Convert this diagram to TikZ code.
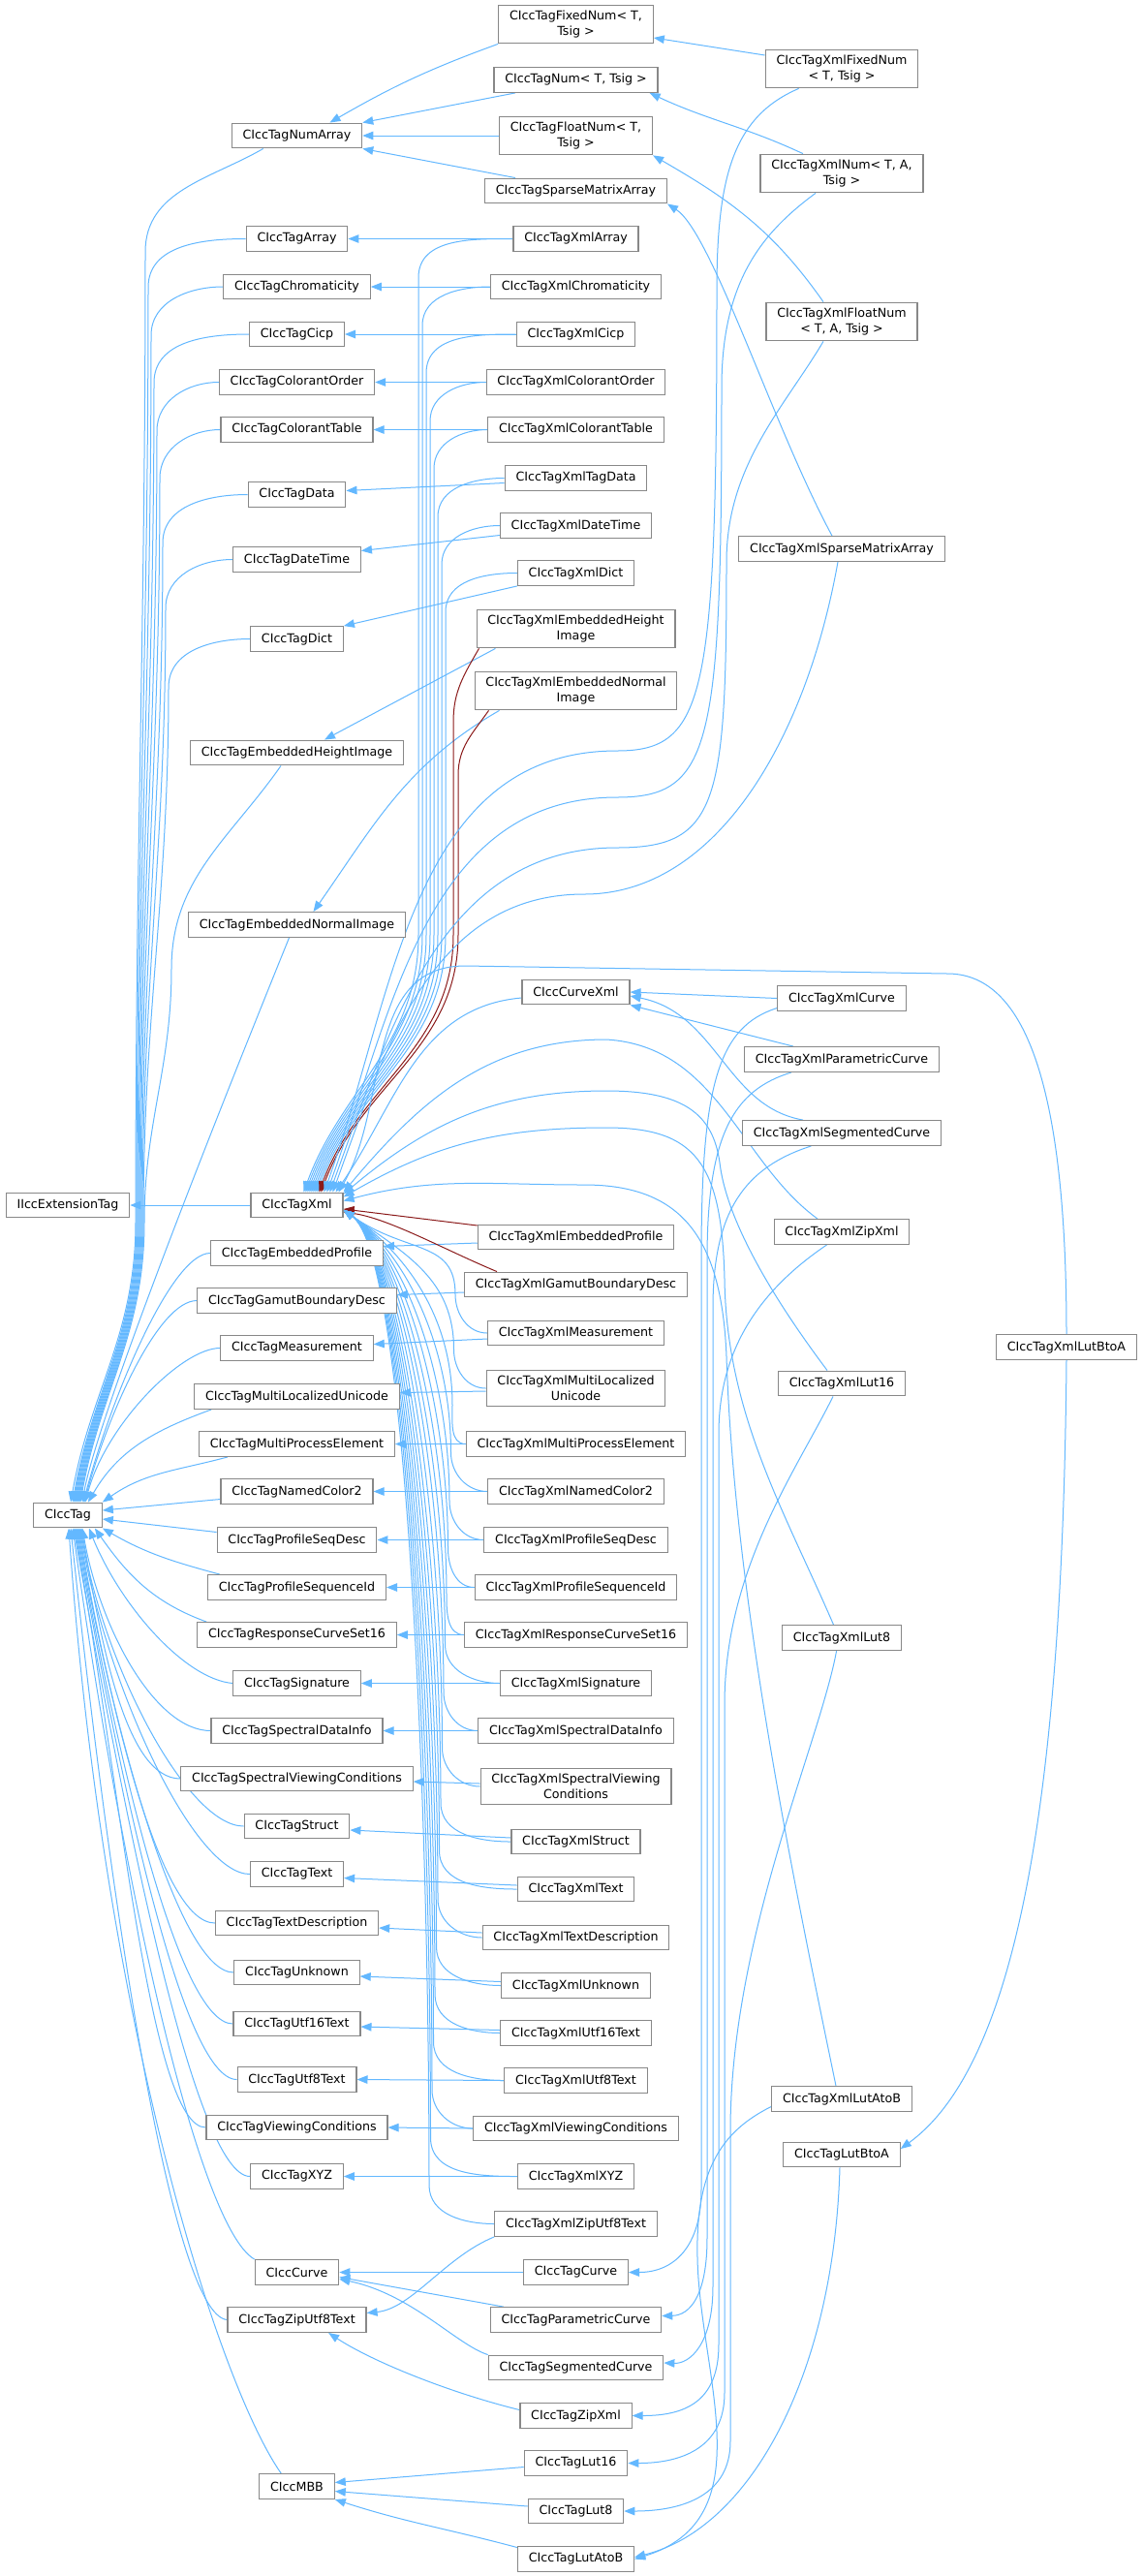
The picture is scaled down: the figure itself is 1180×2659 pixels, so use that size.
\documentclass[tikz,border=0pt]{standalone}
\usepackage{fontspec}
\setmainfont{DejaVu Sans}
\usetikzlibrary{arrows.meta,calc}
\definecolor{pubedge}{HTML}{63B8FF}
\definecolor{privedge}{HTML}{8B1A1A}
\definecolor{boxgray}{HTML}{888888}
\pgfdeclarelayer{edges}
\pgfsetlayers{edges,main}

\begin{document}
\begin{tikzpicture}[
  x=1pt,y=1pt,
  cls/.style={draw=boxgray,line width=1.2pt,fill=white,font=\fontsize{12.65}{15.7}\selectfont,align=center,inner xsep=11.3pt,inner ysep=5.8pt,minimum height=25.7pt},
  inh/.style={pubedge,line width=1pt,-{Triangle[length=11pt,width=8.5pt]}},
  priv/.style={inh,privedge},
]
  \useasboundingbox (0,0) rectangle (1180,-2659);

  % base classes
  \node[cls] (ext) at (70,-1244) {IIccExtensionTag};
  \node[cls] (tag) at (70,-1564) {CIccTag};

  % direct subclasses of CIccTag
  \node[cls] (numarr) at (306.5,-140) {CIccTagNumArray};
  \node[cls] (arr) at (306.5,-246.5) {CIccTagArray};
  \node[cls] (chrom) at (306.5,-296) {CIccTagChromaticity};
  \node[cls] (cicp) at (306.5,-345) {CIccTagCicp};
  \node[cls] (colord) at (306.5,-394.5) {CIccTagColorantOrder};
  \node[cls] (coltab) at (306.5,-443.5) {CIccTagColorantTable};
  \node[cls] (data) at (306.5,-510.5) {CIccTagData};
  \node[cls] (datetime) at (306.5,-577.5) {CIccTagDateTime};
  \node[cls] (dict) at (306.5,-659.5) {CIccTagDict};
  \node[cls] (ehi) at (306.5,-777) {CIccTagEmbeddedHeightImage};
  \node[cls] (eni) at (306.5,-954.5) {CIccTagEmbeddedNormalImage};
  \node[cls] (xml) at (306.5,-1244) {CIccTagXml};
  \node[cls] (eprof) at (306.5,-1293.5) {CIccTagEmbeddedProfile};
  \node[cls] (gamut) at (306.5,-1342.5) {CIccTagGamutBoundaryDesc};
  \node[cls] (meas) at (306.5,-1391.5) {CIccTagMeasurement};
  \node[cls] (mlu) at (306.5,-1441.5) {CIccTagMultiLocalizedUnicode};
  \node[cls] (mpe) at (306.5,-1490.5) {CIccTagMultiProcessElement};
  \node[cls] (nc2) at (306.5,-1539.5) {CIccTagNamedColor2};
  \node[cls] (psd) at (306.5,-1589.5) {CIccTagProfileSeqDesc};
  \node[cls] (psid) at (306.5,-1638.5) {CIccTagProfileSequenceId};
  \node[cls] (rcs16) at (306.5,-1687.5) {CIccTagResponseCurveSet16};
  \node[cls] (sig) at (306.5,-1737.5) {CIccTagSignature};
  \node[cls] (sdi) at (306.5,-1786.5) {CIccTagSpectralDataInfo};
  \node[cls] (svc) at (306.5,-1836) {CIccTagSpectralViewingConditions};
  \node[cls] (strct) at (306.5,-1885) {CIccTagStruct};
  \node[cls] (txt) at (306.5,-1934.5) {CIccTagText};
  \node[cls] (tdesc) at (306.5,-1985) {CIccTagTextDescription};
  \node[cls] (unknown) at (306.5,-2036) {CIccTagUnknown};
  \node[cls] (utf16) at (306.5,-2089) {CIccTagUtf16Text};
  \node[cls] (utf8) at (306.5,-2146.5) {CIccTagUtf8Text};
  \node[cls] (vc) at (306.5,-2196) {CIccTagViewingConditions};
  \node[cls] (xyz) at (306.5,-2246.5) {CIccTagXYZ};
  \node[cls] (curve) at (306.5,-2345.5) {CIccCurve};
  \node[cls] (ziputf8) at (306.5,-2394.5) {CIccTagZipUtf8Text};
  \node[cls] (mbb) at (306.5,-2566.5) {CIccMBB};

  % third column
  \node[cls] (fixnum) at (594.5,-25) {CIccTagFixedNum< T,\\Tsig >};
  \node[cls] (num) at (594.5,-82.5) {CIccTagNum< T, Tsig >};
  \node[cls] (floatnum) at (594.5,-140) {CIccTagFloatNum< T,\\Tsig >};
  \node[cls] (sparse) at (594.5,-197) {CIccTagSparseMatrixArray};
  \node[cls] (xarr) at (594.5,-246.5) {CIccTagXmlArray};
  \node[cls] (xchrom) at (594.5,-296) {CIccTagXmlChromaticity};
  \node[cls] (xcicp) at (594.5,-345) {CIccTagXmlCicp};
  \node[cls] (xcolord) at (594.5,-394.5) {CIccTagXmlColorantOrder};
  \node[cls] (xcoltab) at (594.5,-443.5) {CIccTagXmlColorantTable};
  \node[cls] (xdata) at (594.5,-493.5) {CIccTagXmlTagData};
  \node[cls] (xdatetime) at (594.5,-542.5) {CIccTagXmlDateTime};
  \node[cls] (xdict) at (594.5,-591.5) {CIccTagXmlDict};
  \node[cls] (xehi) at (594.5,-649) {CIccTagXmlEmbeddedHeight\\Image};
  \node[cls] (xeni) at (594.5,-713) {CIccTagXmlEmbeddedNormal\\Image};
  \node[cls] (curvexml) at (594.5,-1024) {CIccCurveXml};
  \node[cls] (xeprof) at (594.5,-1277) {CIccTagXmlEmbeddedProfile};
  \node[cls] (xgamut) at (594.5,-1326) {CIccTagXmlGamutBoundaryDesc};
  \node[cls] (xmeas) at (594.5,-1376) {CIccTagXmlMeasurement};
  \node[cls] (xmlu) at (594.5,-1433) {CIccTagXmlMultiLocalized\\Unicode};
  \node[cls] (xmpe) at (594.5,-1490.5) {CIccTagXmlMultiProcessElement};
  \node[cls] (xnc2) at (594.5,-1539.5) {CIccTagXmlNamedColor2};
  \node[cls] (xpsd) at (594.5,-1589.5) {CIccTagXmlProfileSeqDesc};
  \node[cls] (xpsid) at (594.5,-1638.5) {CIccTagXmlProfileSequenceId};
  \node[cls] (xrcs16) at (594.5,-1687.5) {CIccTagXmlResponseCurveSet16};
  \node[cls] (xsig) at (594.5,-1737.5) {CIccTagXmlSignature};
  \node[cls] (xsdi) at (594.5,-1786.5) {CIccTagXmlSpectralDataInfo};
  \node[cls] (xsvc) at (594.5,-1844) {CIccTagXmlSpectralViewing\\Conditions};
  \node[cls] (xstrct) at (594.5,-1901) {CIccTagXmlStruct};
  \node[cls] (xtxt) at (594.5,-1950) {CIccTagXmlText};
  \node[cls] (xtdesc) at (594.5,-2000) {CIccTagXmlTextDescription};
  \node[cls] (xunknown) at (594.5,-2049.5) {CIccTagXmlUnknown};
  \node[cls] (xutf16) at (594.5,-2098.5) {CIccTagXmlUtf16Text};
  \node[cls] (xutf8) at (594.5,-2147.5) {CIccTagXmlUtf8Text};
  \node[cls] (xvc) at (594.5,-2197) {CIccTagXmlViewingConditions};
  \node[cls] (xxyz) at (594.5,-2246.5) {CIccTagXmlXYZ};
  \node[cls] (xziputf8) at (594.5,-2295.5) {CIccTagXmlZipUtf8Text};
  \node[cls] (tcurve) at (594.5,-2345.5) {CIccTagCurve};
  \node[cls] (tparam) at (594.5,-2394.5) {CIccTagParametricCurve};
  \node[cls] (tseg) at (594.5,-2444) {CIccTagSegmentedCurve};
  \node[cls] (tzipxml) at (594.5,-2493.5) {CIccTagZipXml};
  \node[cls] (lut16) at (594.5,-2542.5) {CIccTagLut16};
  \node[cls] (lut8) at (594.5,-2592) {CIccTagLut8};
  \node[cls] (lutatob) at (594.5,-2641.5) {CIccTagLutAtoB};

  % fourth and fifth column
  \node[cls] (xfixnum) at (869,-71) {CIccTagXmlFixedNum\\< T, Tsig >};
  \node[cls] (xnum) at (869,-179) {CIccTagXmlNum< T, A,\\Tsig >};
  \node[cls] (xfloatnum) at (869,-332) {CIccTagXmlFloatNum\\< T, A, Tsig >};
  \node[cls] (xsparse) at (869,-566.5) {CIccTagXmlSparseMatrixArray};
  \node[cls] (xcurve) at (869,-1030.5) {CIccTagXmlCurve};
  \node[cls] (xparam) at (869,-1093.5) {CIccTagXmlParametricCurve};
  \node[cls] (xseg) at (869,-1169.5) {CIccTagXmlSegmentedCurve};
  \node[cls] (xzipxml) at (869,-1271.5) {CIccTagXmlZipXml};
  \node[cls] (xlut16) at (869,-1428) {CIccTagXmlLut16};
  \node[cls] (xlut8) at (869,-1690.5) {CIccTagXmlLut8};
  \node[cls] (xlutatob) at (869,-2166.5) {CIccTagXmlLutAtoB};
  \node[cls] (lutbtoa) at (869,-2224) {CIccTagLutBtoA};
  \node[cls] (xlutbtoa) at (1101,-1390.5) {CIccTagXmlLutBtoA};

  \begin{pgfonlayer}{edges}
  \fill[white] (0,0) rectangle (1180,-2659);

  \draw[inh] (xml.west) -- (ext.east);

  % into CIccTag
  \draw[inh] ([xshift=33pt]numarr.south west) to[out=-150,in=90] (150pt,-260pt) to[out=-90,in=90] (140pt,-1262pt) to[out=-90,in=80] ([xshift=3pt]tag.north);
  \foreach \cl/\vx/\bx/\dx in {arr/153/141/5, chrom/156/142/6, cicp/159/143/7, colord/162/144/8, coltab/165/145/9, data/168/146/10, datetime/171/147/11, dict/174/148/12}
    \draw[inh] let \p1=(\cl.west) in (\p1) to[out=180,in=90] (\vx pt,\y1-50pt) to[out=-90,in=90] (\bx pt,-1262pt) to[out=-90,in=80] ([xshift=\dx pt]tag.north);
  \draw[inh] ([xshift=-16.5pt]ehi.south) to[out=-125,in=90] (177pt,-1000pt) to[out=-90,in=90] (149pt,-1262pt) to[out=-90,in=80] ([xshift=13pt]tag.north);
  \draw[inh] ([xshift=-8pt]eni.south) to[out=-112,in=80,out distance=100pt,in distance=100pt] ([xshift=15pt]tag.north);
  \foreach \cl/\dx in {eprof/16, gamut/17, meas/18}
    \draw[inh] (\cl.west) to[out=180,in=75,out distance=40pt] ([xshift=\dx pt]tag.north);
  \draw[inh] ([xshift=18pt]mlu.south west) to[out=-160,in=60] ([xshift=21pt]tag.north);
  \draw[inh] ([xshift=30pt]mpe.south west) to[out=-165,in=35] (tag.north east);
  \draw[inh] ([yshift=-8pt]nc2.west) -- ([yshift=5pt]tag.east);
  \draw[inh] ([yshift=8pt]psd.west) -- ([yshift=-4pt]tag.east);
  \draw[inh] ([xshift=13pt]psid.north west) to[out=165,in=-30] (tag.south east);
  \draw[inh] ([xshift=10pt]rcs16.north west) to[out=160,in=-55] ([xshift=-8pt]tag.south east);
  \draw[inh] (sig.west) to[out=175,in=-68,out distance=50pt] ([xshift=-14pt]tag.south east);
  \foreach \cl/\dx in {sdi/15, svc/14, strct/13, txt/12, tdesc/11, unknown/10, utf16/9, utf8/8, vc/7, xyz/6}
    \draw[inh] (\cl.west) to[out=180,in=-80,out distance=57pt,in looseness=1.1] ([xshift=\dx pt]tag.south);
  \draw[inh] (curve.north west) to[out=150,in=-82,out distance=68pt,in looseness=1.2] ([xshift=5pt]tag.south);
  \draw[inh] (ziputf8.west) to[out=175,in=-84,out distance=57pt,in looseness=1.2] ([xshift=3pt]tag.south);
  \draw[inh] ([xshift=23pt]mbb.north west) to[out=125,in=-86,out distance=115pt,in looseness=1.3] ([xshift=1pt]tag.south);

  % into CIccTagNumArray and its templates
  \draw[inh] (fixnum.south west) to[out=-160,in=30] ([xshift=34pt]numarr.north);
  \draw[inh] ([xshift=22.5pt]num.south west) -- (numarr.north east);
  \draw[inh] (floatnum.west) -- (numarr.east);
  \draw[inh] ([xshift=32pt]sparse.north west) -- (numarr.south east);
  \draw[inh] ([yshift=14pt]xfixnum.west) -- ([yshift=-14pt]fixnum.east);
  \draw[inh] ([xshift=-40pt]xnum.north) to[out=155,in=-25] ([xshift=-9pt]num.south east);
  \draw[inh] ([xshift=-19pt]xfloatnum.north) to[out=125,in=-30] (floatnum.south east);
  \draw[inh] ([xshift=-10pt]xsparse.north) .. controls (798,-440) and (735,-240) .. (sparse.south east);

  % Xml class to its tag class
  \foreach \cl/\a/\b in {arr/0/0, chrom/0/0, cicp/0/0, colord/0/0, coltab/0/0, data/-5/4, datetime/-10/9, eprof/-6/7, gamut/-8/6, meas/-6/4, mlu/-3/4, mpe/0/0, nc2/0/0, psd/0/0, psid/0/0, rcs16/0/0, sig/0/0, sdi/0/0, svc/3/-3, strct/4/-4, txt/4/-4, tdesc/5/-5, unknown/4/-4, utf16/3/-3, utf8/0/0, vc/0/0, xyz/0/0}
    \draw[inh] ([yshift=\a pt]x\cl.west) -- ([yshift=\b pt]\cl.east);
  \draw[inh] (xdict.south west) -- (dict.north east);
  \draw[inh] ([xshift=20pt]xehi.south west) -- ([xshift=28.5pt]ehi.north);
  \draw[inh] ([xshift=26pt]xeni.south west) to[out=-150,in=55] ([xshift=17pt]eni.north);

  % into CIccTagXml from above
  \foreach \cl/\vx/\dx in {xarr/432/7, xchrom/436/9, xcicp/440/11, xcolord/444/13, xcoltab/448/15, xdata/452/17, xdatetime/456/19, xdict/460/21}
    \draw[inh] let \p1=(\cl.west) in (\p1) to[out=180,in=90] (\vx pt,\y1-40pt) -- (\vx pt,-965pt) to[out=-90,in=70] ([xshift=\dx pt]xml.north);
  \draw[priv] ([xshift=3pt]xehi.south west) to[out=-120,in=90] (468pt,-745pt) -- (468pt,-965pt) to[out=-90,in=70] ([xshift=23pt]xml.north);
  \draw[priv] ([xshift=15pt]xeni.south west) to[out=-125,in=90] (473pt,-800pt) -- (473pt,-965pt) to[out=-90,in=70] ([xshift=25pt]xml.north);
  \draw[inh] ([xshift=35pt]xfixnum.south west) .. controls (758,-120) and (740,-180) .. (740,-300) .. controls (740,-720) and (729,-775) .. (637,-775) to[out=180,in=70] ([xshift=28pt]xml.north);
  \draw[inh] ([xshift=-27pt]xnum.south) .. controls (787,-240) and (745,-290) .. (745,-400) .. controls (745,-770) and (735,-823) .. (637,-823) to[out=180,in=70] ([xshift=31pt]xml.north);
  \draw[inh] ([xshift=-19pt]xfloatnum.south) .. controls (810,-420) and (750,-480) .. (750,-580) .. controls (750,-830) and (741,-875) .. (637,-875) to[out=180,in=70] ([xshift=34pt]xml.north);
  \draw[inh] ([xshift=-4pt]xsparse.south) .. controls (833,-760) and (741,-923) .. (603,-923) to[out=180,in=70] ([xshift=37pt]xml.north);
  \draw[inh] ([yshift=-6pt]curvexml.west) to[out=185,in=55] ([xshift=40pt]xml.north);
  \draw[inh] (xlutbtoa.north) .. controls (1101,-1100) and (1051,-1005) .. (978,-1005) -- (480,-997) to[out=180,in=60] ([xshift=43pt]xml.north);
  \draw[inh] ([xshift=-25pt]xzipxml.north) .. controls (764,-1200) and (741,-1080) .. (626,-1073) to[out=180,in=50] (xml.north east);
  \draw[inh] ([xshift=-15pt]xlut16.north) .. controls (798,-1340) and (750,-1260) .. (743,-1200) .. controls (736,-1150) and (706,-1126) .. (626,-1126) to[out=180,in=40] ([yshift=-2pt]xml.north east);
  \draw[inh] ([xshift=-8.5pt]xlut8.north) .. controls (810,-1560) and (750,-1460) .. (748,-1320) .. controls (745,-1200) and (718,-1164) .. (626,-1164) to[out=180,in=30] ([yshift=-5pt]xml.north east);
  \draw[inh] ([xshift=-6pt]xlutatob.north) .. controls (821,-1950) and (758,-1650) .. (750,-1400) .. controls (745,-1280) and (706,-1223) .. (603,-1223) to[out=180,in=15] ([yshift=-9pt]xml.north east);

  % into CIccTagXml from below
  \draw[priv] ([yshift=12pt]xeprof.west) -- ([yshift=-4pt]xml.east);
  \draw[priv] ([xshift=34pt]xgamut.north west) .. controls (459,-1290) and (402,-1258) .. ([yshift=-7pt]xml.east);
  \foreach \cl/\vx in {xmeas/470, xmlu/468.5, xmpe/467, xnc2/465.5, xpsd/464, xpsid/462.5, xrcs16/461, xsig/459.5, xsdi/458, xsvc/456.5, xstrct/455, xtxt/453.5, xtdesc/452, xunknown/450.5, xutf16/449, xutf8/447.5, xvc/446, xxyz/444.5, xziputf8/443}
    \draw[inh] let \p1=(\cl.west) in (\p1) to[out=180,in=-90] (\vx pt,\y1+40pt) to[out=90,in=-35,in distance=80pt] ([yshift=-5pt]xml.east);

  % curves and LUTs
  \draw[inh] (xcurve.west) -- (curvexml.east);
  \draw[inh] ([xshift=51pt]xparam.north west) -- (curvexml.south east);
  \draw[inh] ([xshift=-40pt]xseg.north) .. controls (749,-1142) and (741,-1046) .. ([yshift=-4pt]curvexml.east);
  \draw[inh] ([yshift=-10pt]xcurve.west) .. controls (741,-1060) and (724,-1120) .. (724,-1300) -- (724,-2260) .. controls (724,-2320) and (695,-2345.5) .. (tcurve.east);
  \draw[inh] ([xshift=49pt]xparam.south west) .. controls (758,-1125) and (730,-1170) .. (730,-1300) -- (730,-2310) .. controls (730,-2370) and (712,-2390) .. ([yshift=4pt]tparam.east);
  \draw[inh] ([xshift=71.5pt]xseg.south west) .. controls (769,-1205) and (736,-1250) .. (736,-1350) -- (736,-2360) .. controls (736,-2420) and (712,-2440) .. ([yshift=5pt]tseg.east);
  \draw[inh] ([xshift=55pt]xzipxml.south west) .. controls (787,-1330) and (742,-1390) .. (742,-1480) -- (742,-2420) .. controls (742,-2480) and (706,-2493.5) .. (tzipxml.east);
  \draw[inh] ([xshift=-9pt]xlut16.south) .. controls (821,-1520) and (748,-1620) .. (748,-1760) -- (748,-2470) .. controls (748,-2525) and (706,-2542.5) .. (lut16.east);
  \draw[inh] ([xshift=-5.4pt]xlut8.south) .. controls (846,-1800) and (754,-2000) .. (754,-2200) -- (754,-2520) .. controls (754,-2575) and (706,-2592) .. (lut8.east);
  \draw[inh] ([yshift=-8pt]xlutatob.west) .. controls (745,-2200) and (718,-2240) .. (720,-2330) .. controls (722,-2450) and (790,-2600) .. (lutatob.east);
  \draw[inh] ([xshift=-2pt]lutbtoa.south) .. controls (861,-2450) and (775,-2610) .. ([yshift=2pt]lutatob.east);
  \draw[inh] (xlutbtoa.south) .. controls (1097,-1850) and (1051,-2130) .. ([yshift=6pt]lutbtoa.east);

  \draw[inh] (tcurve.west) -- (curve.east);
  \draw[inh] ([xshift=14pt]tparam.north west) -- ([yshift=-5pt]curve.east);
  \draw[inh] (tseg.north west) .. controls (471,-2420) and (425,-2368) .. ([yshift=-7pt]curve.east);
  \draw[inh] (xziputf8.south west) .. controls (459,-2330) and (425,-2383) .. ([yshift=7pt]ziputf8.east);
  \draw[inh] ([yshift=6pt]tzipxml.west) .. controls (465,-2470) and (385,-2438) .. ([xshift=-39.5pt]ziputf8.south east);
  \draw[inh] ([yshift=-4pt]lut16.west) -- ([yshift=4pt]mbb.east);
  \draw[inh] ([yshift=5pt]lut8.west) -- ([yshift=-5pt]mbb.east);
  \draw[inh] ([yshift=12pt]lutatob.west) to[out=165,in=-18] (mbb.south east);
  \end{pgfonlayer}
\end{tikzpicture}
\end{document}
